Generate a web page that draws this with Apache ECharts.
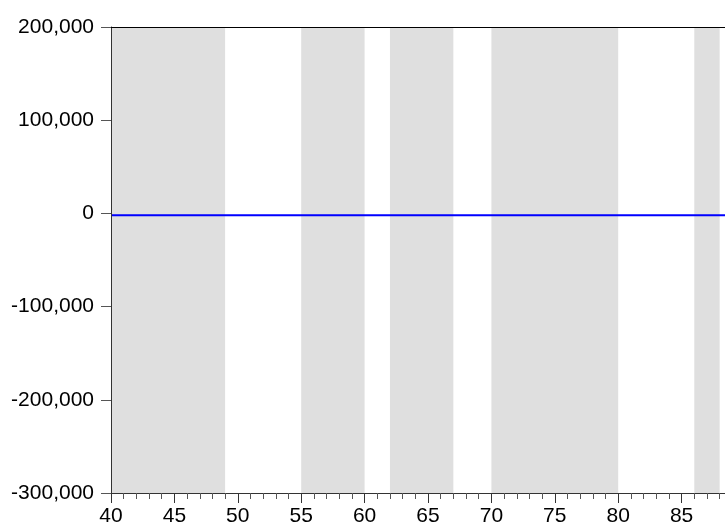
<!DOCTYPE html>
<html>
<head>
<meta charset="utf-8">
<script src="https://cdn.jsdelivr.net/npm/echarts@6/dist/echarts.min.js"></script>
<style>html,body{margin:0;padding:0;background:#fff;overflow:hidden;width:725px;height:527px;}#c{width:746px;height:527px;}</style>
</head>
<body>
<div id="c"></div>
<script>
const years = [40,41,42,43,44,45,46,47,48,49,50,51,52,53,54,55,56,57,58,59,60,61,62,63,64,65,66,67,68,69,70,71,72,73,74,75,76,77,78,79,80,81,82,83,84,85,86,87,88,89,90];
const values = [-2000,-2000,-2000,-2000,-2000,-2000,-2000,-2000,-2000,-2000,-2000,-2000,-2000,-2000,-2000,-2000,-2000,-2000,-2000,-2000,-2000,-2000,-2000,-2000,-2000,-2000,-2000,-2000,-2000,-2000,-2000,-2000,-2000,-2000,-2000,-2000,-2000,-2000,-2000,-2000,-2000,-2000,-2000,-2000,-2000,-2000,-2000,-2000,-2000,-2000,-2000];
const bandStarts = [40, 55, 62, 70, 86];
const bandEnds   = [49, 60, 67, 80, 88];
const yTicks = [-300000, -200000, -100000, 0, 100000, 200000];

const chart = echarts.init(document.getElementById('c'), null, {renderer:'canvas'});
const fontFamily = '"Liberation Sans", Arial, sans-serif';
chart.setOption({
  animation: false,
  grid: {left: 111, top: 27, bottom: 34, right: 1},
  xAxis: [{
    type: 'value', min: 40, max: 90, interval: 5, position: 'bottom', z: 5,
    axisLine: {show: true, onZero: false, lineStyle: {color: '#333', width: 1}},
    axisTick: {show: true, length: 10, inside: false, lineStyle: {color: '#333'}},
    minorTick: {show: true, splitNumber: 5, length: 6, lineStyle: {color: '#555'}},
    splitLine: {show: false},
    axisLabel: {color: '#000', fontSize: 21, fontFamily: fontFamily, margin: 13, showMaxLabel: false}
  }, {
    type: 'value', min: 40, max: 90, position: 'top', z: 5,
    axisLine: {show: true, onZero: false, lineStyle: {color: '#000', width: 1}},
    axisTick: {show: false}, axisLabel: {show: false}, splitLine: {show: false}
  }],
  yAxis: {
    type: 'value', min: yTicks[0], max: yTicks[yTicks.length-1], interval: 100000, z: 5,
    axisLine: {show: true, onZero: false, lineStyle: {color: '#333', width: 1}},
    axisTick: {show: true, length: 10, lineStyle: {color: '#555'}},
    splitLine: {show: false},
    axisLabel: {color: '#000', fontSize: 21, fontFamily: fontFamily, margin: 17,
      formatter: v => v.toLocaleString('en-US')}
  },
  series: [
    {
      type: 'line', data: [], z: 1, silent: true, xAxisIndex: 0,
      markArea: {
        silent: true,
        itemStyle: {color: '#dfdfdf'},
        data: bandStarts.map((s, i) => [{xAxis: s}, {xAxis: bandEnds[i]}])
      }
    },
    {
      type: 'line', z: 3, xAxisIndex: 0,
      data: years.map((y, i) => [y, values[i]]),
      showSymbol: false, symbol: 'none',
      lineStyle: {color: '#0000ff', width: 2},
      itemStyle: {color: '#0000ff'}
    }
  ]
});
</script>
</body>
</html>
